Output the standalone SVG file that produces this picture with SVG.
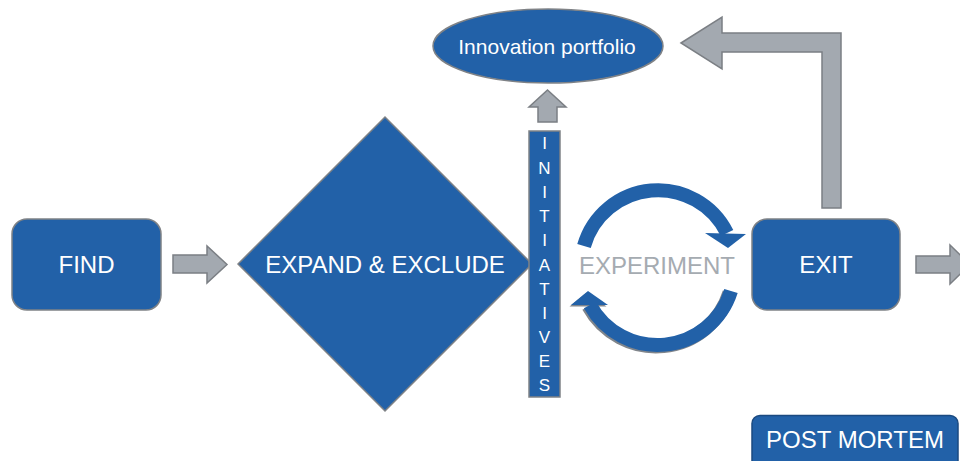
<svg xmlns="http://www.w3.org/2000/svg" width="960" height="461" viewBox="0 0 960 461">
  <style>
    .node { fill: #2261a8; stroke: #7f8286; stroke-width: 1.5; }
    .flow { fill: #a3a9b0; stroke: #7b7f84; stroke-width: 1.5; stroke-linejoin: miter; }
    .lbl { font-family: "Liberation Sans", Arial, sans-serif; fill: #ffffff; text-anchor: middle; }
    .big { font-size: 24px; }
    .vert { font-size: 17px; }
    .loop { fill: none; stroke: #2261a8; stroke-width: 14; stroke-linecap: butt; }
  </style>
  <rect width="960" height="461" fill="#ffffff"/>

  <!-- flow arrows -->
  <g id="connectors">
    <polygon class="flow" points="173,255 207,255 207,246 227,264.5 207,283 207,273 173,273"/>
    <polygon class="flow" points="916,256 950,256 950,245 970,264.5 950,284 950,273 916,273"/>
    <polygon class="flow" points="538,122 538,107 529,107 547.5,90 566,107 557,107 557,122"/>
    <polygon class="flow" points="681,43 722,17 722,33 841,33 841,208 822,208 822,52 722,52 722,69"/>
  </g>

  <g id="find">
    <rect class="node" x="12" y="219" width="149" height="91" rx="15"/>
    <text class="lbl big" x="86.5" y="273">FIND</text>
  </g>

  <g id="expand-exclude">
    <polygon class="node" points="238,264 385,117 532,264 385,411"/>
    <text class="lbl big" x="385" y="273">EXPAND &amp; EXCLUDE</text>
  </g>

  <g id="initiatives">
    <rect class="node" x="529" y="131" width="31" height="266"/>
    <text class="lbl vert" x="544.5" y="149">I</text>
    <text class="lbl vert" x="544.5" y="174">N</text>
    <text class="lbl vert" x="544.5" y="198">I</text>
    <text class="lbl vert" x="544.5" y="222">T</text>
    <text class="lbl vert" x="544.5" y="246">I</text>
    <text class="lbl vert" x="544.5" y="271">A</text>
    <text class="lbl vert" x="544.5" y="295">T</text>
    <text class="lbl vert" x="544.5" y="319">I</text>
    <text class="lbl vert" x="544.5" y="343">V</text>
    <text class="lbl vert" x="544.5" y="367">E</text>
    <text class="lbl vert" x="544.5" y="391">S</text>
  </g>

  <g id="innovation-portfolio">
    <ellipse class="node" cx="548" cy="46" rx="115" ry="37"/>
    <text class="lbl" x="547" y="54" font-size="21">Innovation portfolio</text>
  </g>

  <g id="experiment">
    <!-- upper cycle arrow -->
    <path class="loop" d="M584,246 A77,77 0 0 1 727,233"/>
    <polygon points="705,233 746,234 728,248" fill="#2261a8"/>
    <!-- lower cycle arrow, with a thin grey shadow -->
    <g transform="translate(-1.5,1.5)">
      <path d="M731,291 A77,77 0 0 1 590,305" fill="none" stroke="#80858b" stroke-width="14"/>
      <polygon points="571,305 608,305 588,291" fill="#80858b"/>
    </g>
    <path class="loop" d="M731,291 A77,77 0 0 1 590,305"/>
    <polygon points="571,305 608,305 588,291" fill="#2261a8"/>
    <text class="lbl big" x="657" y="274" fill="#a5abb1" style="fill:#a5abb1">EXPERIMENT</text>
  </g>

  <g id="exit">
    <rect class="node" x="752" y="219" width="148" height="91" rx="15"/>
    <text class="lbl big" x="826" y="273">EXIT</text>
  </g>

  <g id="post-mortem">
    <rect x="752" y="415.5" width="206" height="60" rx="8" fill="#2261a8" stroke="#1b4a80" stroke-width="1.5"/>
    <text class="lbl big" x="855" y="448">POST MORTEM</text>
  </g>
</svg>
